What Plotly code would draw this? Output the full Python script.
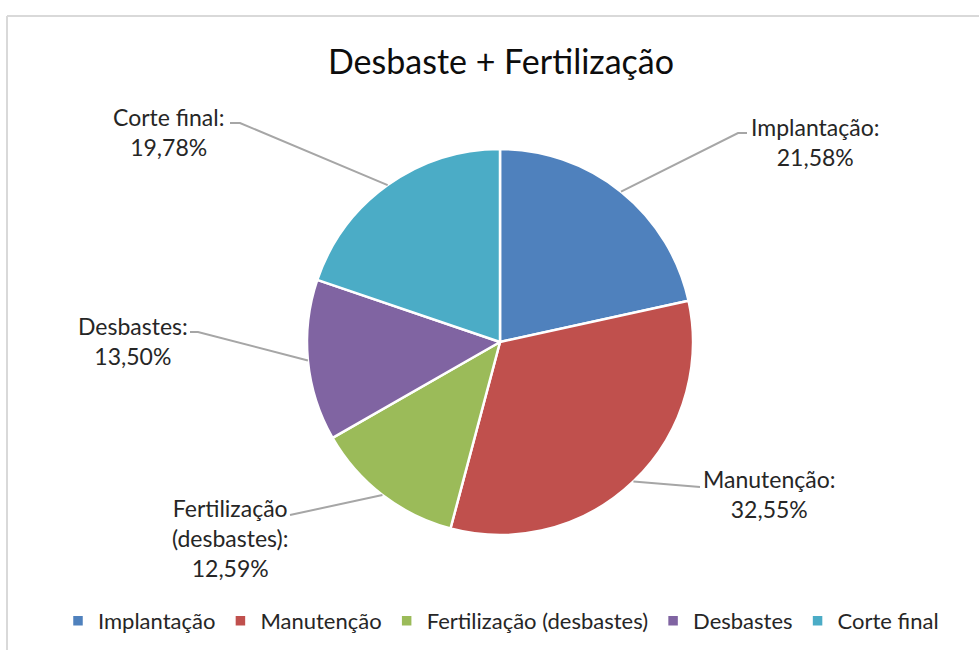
import math
import plotly.graph_objects as go

# ---- data ----
categories = ["Implantação", "Manutenção", "Fertilização (desbastes)", "Desbastes", "Corte final"]
values = [21.58, 32.55, 12.59, 13.50, 19.78]
label_texts = ["Implantação:<br>21,58%", "Manutenção:<br>32,55%",
               "Fertilização<br>(desbastes):<br>12,59%", "Desbastes:<br>13,50%",
               "Corte final:<br>19,78%"]
title_text = "Desbaste + Fertilização"

# ---- layout constants ----
W, H = 979, 650
colors = ["#4F81BD", "#C0504D", "#9BBB59", "#8064A2", "#4BACC6"]
CX, CY, R = 500, 342, 193  # pie centre / radius in px
FONT = "Lato, 'Open Sans', sans-serif"

# label block centres (px) and leader-line elbow / end points (px)
label_pos = [(815, 142), (769, 494), (230, 538), (133, 341), (168, 132)]
elbows = [[(747, 133), (738, 133)],
          [(700, 487)],
          [(290, 515)],
          [(190, 332), (198, 332)],
          [(230, 123), (240, 123)]]


def px(x):
    return x / W


def py(y):
    return 1 - y / H


fig = go.Figure()
fig.add_trace(go.Pie(
    labels=categories, values=values, sort=False, direction="clockwise",
    rotation=0, marker=dict(colors=colors, line=dict(color="white", width=2.5)),
    textinfo="none", hoverinfo="skip",
    domain=dict(x=[px(CX - 200), px(CX + 200)], y=[py(CY + R), py(CY - R)]),
))

shapes = []
annotations = []
total = sum(values)
cum = 0.0
for i, v in enumerate(values):
    mid = (cum + v / 2) / total * 2 * math.pi
    cum += v
    ex = CX + R * math.sin(mid)
    ey = CY - R * math.cos(mid)
    pts = elbows[i] + [(ex, ey)]
    path = "M " + " L ".join(f"{px(x):.5f},{py(y):.5f}" for x, y in pts)
    shapes.append(dict(type="path", path=path, xref="paper", yref="paper",
                       line=dict(color="#A6A6A6", width=2)))
    lx, ly = label_pos[i]
    annotations.append(dict(text=label_texts[i], x=px(lx), y=py(ly), xref="paper", yref="paper",
                            showarrow=False, xanchor="center", yanchor="middle",
                            font=dict(family=FONT, size=23, color="#262626")))

# chart border (left & top visible)
shapes.append(dict(type="line", xref="paper", yref="paper", x0=px(7), x1=px(7), y0=py(16), y1=py(660),
                   line=dict(color="#D9D9D9", width=2)))
shapes.append(dict(type="line", xref="paper", yref="paper", x0=px(7), x1=px(990), y0=py(16), y1=py(16),
                   line=dict(color="#D9D9D9", width=2)))

fig.update_layout(
    width=W, height=H, margin=dict(l=0, r=0, t=0, b=0),
    paper_bgcolor="white", plot_bgcolor="white",
    title=dict(text=title_text, x=px(501), y=py(62), xanchor="center", yanchor="middle",
               font=dict(family=FONT, size=34, color="#0D0D0D")),
    showlegend=True,
    legend=dict(orientation="h", x=px(501), y=py(621), xanchor="center", yanchor="middle",
                font=dict(family=FONT, size=22, color="#262626"), itemwidth=30,
                traceorder="normal"),
    shapes=shapes, annotations=annotations,
)

fig.write_html("out.html", config={"displayModeBar": False},
               post_script="document.body.style.margin='0';document.body.style.overflow='hidden';")
